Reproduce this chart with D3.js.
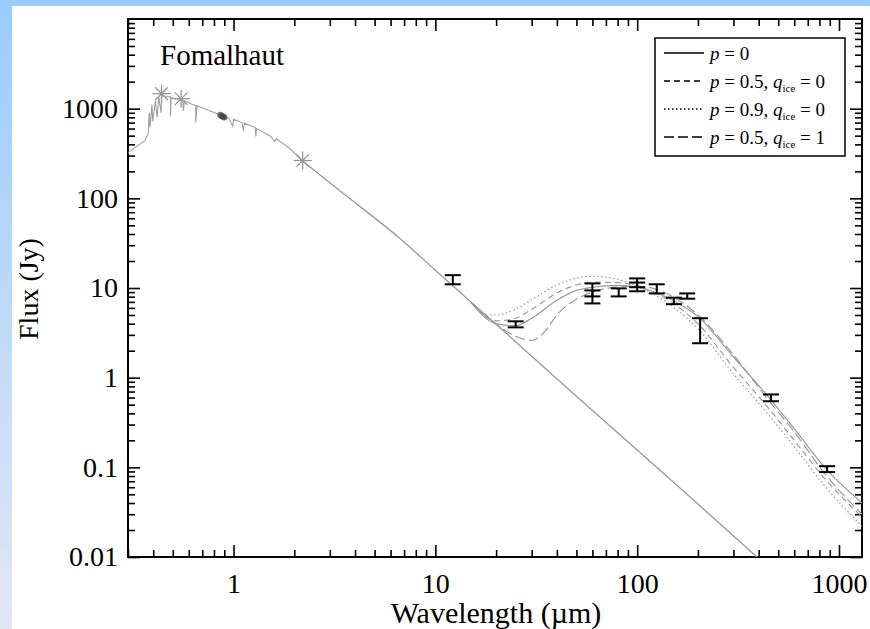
<!DOCTYPE html>
<html>
<head>
<meta charset="utf-8">
<script src="https://cdn.jsdelivr.net/npm/d3@7"></script>
<style>
    body { margin: 0; padding: 0; background: #fff; }
    svg { display: block; font-family: "Liberation Serif", "DejaVu Serif", serif; }
    .tick text { font-size: 28px; fill: #000; font-family: "Liberation Serif", serif; }
    .tick line { stroke: #000; stroke-width: 1.6; }
</style>
</head>
<body>
<div id="chart"></div>
<script>
// Axes: wavelength (um) and flux (Jy), both logarithmic
const X_TICKS = [1, 10, 100, 1000];
const X_LABELS = ['1', '10', '100', '1000'];
const Y_TICKS = [0.01, 0.1, 1, 10, 100, 1000];
const Y_LABELS = ['0.01', '0.1', '1', '10', '100', '1000'];

// Stellar spectrum (optical/near-IR, with absorption spikes) [wavelength, flux]
const spectrum = [
    [0.30, 324], [0.364, 440], [0.378, 540], [0.382, 900], [0.386, 620],
    [0.394, 1110], [0.398, 720], [0.41, 1230], [0.418, 800], [0.426, 1360],
    [0.437, 900], [0.441, 1400], [0.46, 1360], [0.487, 1360], [0.487, 820],
    [0.49, 1330], [0.54, 1260], [0.56, 1240], [0.565, 950], [0.57, 1220],
    [0.61, 1140], [0.65, 1080], [0.65, 700], [0.66, 1080], [0.76, 950],
    [0.83, 880], [0.88, 815], [0.95, 775], [0.99, 640], [1.0, 760],
    [1.1, 700], [1.12, 560], [1.13, 690], [1.28, 615], [1.29, 490],
    [1.3, 600], [1.53, 490], [1.6, 430], [1.63, 460], [1.9, 360], [2.18, 264]
];
// Photosphere continuation (Rayleigh-Jeans tail)
const photosphere = [
    [2.18, 264], [3.5, 113], [6.68, 35.6], [10, 15.8], [20, 3.94],
    [50, 0.62], [100, 0.156], [200, 0.039], [400, 0.0096]
];

// Photometric points drawn as asterisks
const starPhot = [[0.44, 1470], [0.55, 1290], [2.2, 264]];
// Dense cluster near 0.9 um
const blobPhot = [[0.86, 850], [0.875, 830], [0.89, 810], [0.9, 800]];

// Far-IR / submm measurements
const obsWave = [12.2, 25, 60, 60, 81, 100, 100, 125, 152, 177, 205, 460, 873];
const obsLow  = [11.0, 3.64, 8.06, 6.73, 8.06, 10.2, 9.2, 8.7, 6.6, 7.6, 2.42, 0.546, 0.0885];
const obsHigh = [13.9, 4.25, 11.25, 9.4, 9.9, 12.8, 11.5, 11.0, 7.8, 8.7, 4.6, 0.65, 0.103];

// Disk models
const modelNames = ['p = 0', 'p = 0.5, q = 0', 'p = 0.9, q = 0', 'p = 0.5, q = 1'];
const modelP0 = [
    [15, 6.9], [20, 4.0], [25, 3.8], [30, 4.6], [40, 7.3], [50, 9.4], [60, 10.2],
    [80, 10.7], [100, 10.2], [150, 7.3], [200, 4.8], [300, 1.7], [450, 0.6],
    [600, 0.27], [850, 0.1], [1300, 0.04]
];
const modelP05 = [
    [15, 6.9], [20, 4.3], [25, 4.6], [30, 5.8], [40, 8.8], [50, 10.8], [60, 11.6],
    [80, 11.5], [100, 10.5], [150, 6.8], [200, 4.0], [300, 1.3], [450, 0.45],
    [600, 0.2], [850, 0.075], [1300, 0.028]
];
const modelP09 = [
    [15, 6.9], [18, 5.0], [20, 5.0], [25, 5.8], [30, 7.4], [40, 10.8], [50, 12.8],
    [60, 13.5], [80, 12.5], [100, 10.5], [150, 6.2], [200, 3.5], [300, 1.1],
    [450, 0.38], [600, 0.17], [850, 0.062], [1300, 0.022]
];
const modelQ1 = [
    [15, 6.9], [20, 3.95], [25, 2.9], [30, 2.6], [35, 3.3], [40, 5.0], [50, 7.5],
    [60, 9.0], [80, 10.3], [100, 10.5], [150, 8.0], [200, 5.0], [300, 1.8],
    [450, 0.55], [600, 0.25], [850, 0.085], [1300, 0.03]
];
const modelDash = [null, '6,4', '1.5,2.5', '10,4'];

function drawChart() {
    const width = 870;
    const height = 629;
    const plot = { left: 128, top: 19, right: 862, bottom: 557 };

    const svg = d3.select('#chart')
        .append('svg')
        .attr('width', width)
        .attr('height', height);

    // Fond degradé bleu (bandes gauche et haut)
    const defs = svg.append('defs');
    const grad = defs.append('linearGradient')
        .attr('id', 'bg')
        .attr('x1', 0).attr('y1', 0).attr('x2', 0).attr('y2', 1);
    grad.append('stop').attr('offset', '0%').attr('stop-color', '#99ccff');
    grad.append('stop').attr('offset', '100%').attr('stop-color', '#e4e6f4');
    svg.append('rect').attr('width', width).attr('height', height).attr('fill', 'url(#bg)');
    svg.append('rect').attr('x', 12).attr('y', 6)
        .attr('width', width - 12).attr('height', height - 6).attr('fill', '#fff');

    defs.append('clipPath').attr('id', 'clip')
        .append('rect')
        .attr('x', plot.left).attr('y', plot.top)
        .attr('width', plot.right - plot.left).attr('height', plot.bottom - plot.top);

    // Echelles
    const x = d3.scaleLog().domain([0.3, 1300]).range([plot.left, plot.right]);
    const y = d3.scaleLog().domain([0.01, 10000]).range([plot.bottom, plot.top]);

    const xMinor = x.ticks().filter(v => !X_TICKS.includes(v));
    const yMinor = y.ticks().filter(v => !Y_TICKS.includes(v) && v < 10000);

    // Axes (graduations vers l'interieur)
    const bottom = svg.append('g').attr('transform', `translate(0,${plot.bottom})`);
    bottom.call(d3.axisBottom(x).tickValues(X_TICKS).tickSize(-12).tickPadding(16)
        .tickFormat((d, i) => X_LABELS[i]));
    bottom.append('g').call(d3.axisBottom(x).tickValues(xMinor).tickSize(-7).tickFormat(''));

    const top = svg.append('g').attr('transform', `translate(0,${plot.top})`);
    top.call(d3.axisTop(x).tickValues(X_TICKS).tickSize(-12).tickFormat(''));
    top.append('g').call(d3.axisTop(x).tickValues(xMinor).tickSize(-7).tickFormat(''));

    const left = svg.append('g').attr('transform', `translate(${plot.left},0)`);
    left.call(d3.axisLeft(y).tickValues(Y_TICKS).tickSize(-12).tickPadding(10)
        .tickFormat((d, i) => Y_LABELS[i]));
    left.append('g').call(d3.axisLeft(y).tickValues(yMinor).tickSize(-7).tickFormat(''));

    const right = svg.append('g').attr('transform', `translate(${plot.right},0)`);
    right.call(d3.axisRight(y).tickValues(Y_TICKS).tickSize(-12).tickFormat(''));
    right.append('g').call(d3.axisRight(y).tickValues(yMinor).tickSize(-7).tickFormat(''));

    svg.selectAll('.domain').remove();
    // enlever la police sans-serif imposee par d3.axis
    [bottom, top, left, right].forEach(a => a.attr('font-family', null).attr('font-size', null));

    // Cadre
    svg.append('rect')
        .attr('x', plot.left).attr('y', plot.top)
        .attr('width', plot.right - plot.left).attr('height', plot.bottom - plot.top)
        .attr('fill', 'none').attr('stroke', '#000').attr('stroke-width', 2);

    const g = svg.append('g').attr('clip-path', 'url(#clip)');
    const line = d3.line().x(d => x(d[0])).y(d => y(d[1]));
    const smooth = d3.line().x(d => x(d[0])).y(d => y(d[1])).curve(d3.curveMonotoneX);

    // Spectre stellaire + photosphere
    g.append('path').datum(spectrum).attr('d', line)
        .attr('fill', 'none').attr('stroke', '#a0a0a0').attr('stroke-width', 1.1);
    g.append('path').datum(photosphere).attr('d', smooth)
        .attr('fill', 'none').attr('stroke', '#999').attr('stroke-width', 1.3);

    // Modeles du disque
    [modelP0, modelP05, modelP09, modelQ1].forEach((m, i) => {
        g.append('path').datum(m).attr('d', smooth)
            .attr('fill', 'none').attr('stroke', '#9a9a9a').attr('stroke-width', 1.2)
            .attr('stroke-dasharray', modelDash[i]);
    });

    // Asterisques photometriques
    const star = g.append('g').attr('stroke', '#999').attr('stroke-width', 1.3);
    starPhot.forEach(d => {
        const cx = x(d[0]), cy = y(d[1]), r = 9;
        [0, 45, 90, 135].forEach(a => {
            const dx = r * Math.cos(a * Math.PI / 180), dy = r * Math.sin(a * Math.PI / 180);
            star.append('line')
                .attr('x1', cx - dx).attr('y1', cy - dy)
                .attr('x2', cx + dx).attr('y2', cy + dy);
        });
    });
    g.selectAll('.blob').data(blobPhot).join('circle')
        .attr('class', 'blob')
        .attr('cx', d => x(d[0])).attr('cy', d => y(d[1]))
        .attr('r', 3.2).attr('fill', '#444').attr('opacity', 0.7);

    // Barres d'erreur
    const err = g.append('g').attr('stroke', '#000').attr('stroke-width', 2);
    obsWave.forEach((w, i) => {
        const cx = x(w);
        err.append('line').attr('x1', cx).attr('x2', cx)
            .attr('y1', y(obsLow[i])).attr('y2', y(obsHigh[i]));
        [obsLow[i], obsHigh[i]].forEach(v => {
            err.append('line').attr('x1', cx - 8).attr('x2', cx + 8)
                .attr('y1', y(v)).attr('y2', y(v));
        });
    });

    // Titres
    svg.append('text').attr('x', 160).attr('y', 65)
        .attr('font-size', 29).text('Fomalhaut');
    svg.append('text')
        .attr('transform', `translate(38,289) rotate(-90)`)
        .attr('text-anchor', 'middle').attr('font-size', 28)
        .text('Flux (Jy)');
    svg.append('text').attr('x', 496).attr('y', 623)
        .attr('text-anchor', 'middle').attr('font-size', 30)
        .text('Wavelength (\u00b5m)');

    // Legende
    const legend = svg.append('g');
    legend.append('rect')
        .attr('x', 655).attr('y', 38).attr('width', 190).attr('height', 118)
        .attr('fill', '#fff').attr('stroke', '#000').attr('stroke-width', 1.5);
    const rows = [53, 81, 109, 137];
    modelNames.forEach((name, i) => {
        legend.append('line')
            .attr('x1', 664).attr('x2', 704).attr('y1', rows[i]).attr('y2', rows[i])
            .attr('stroke', '#000').attr('stroke-width', 1.4)
            .attr('stroke-dasharray', modelDash[i]);
        const t = legend.append('text').attr('x', 710).attr('y', rows[i] + 7)
            .attr('font-size', 19);
        const parts = name.split(', ');
        t.append('tspan').attr('font-style', 'italic').text('p');
        t.append('tspan').text(' = ' + parts[0].split(' = ')[1]);
        if (parts[1]) {
            t.append('tspan').text(', ');
            t.append('tspan').attr('font-style', 'italic').text('q');
            t.append('tspan').attr('font-size', 11).attr('dy', 4).text('ice');
            t.append('tspan').attr('dy', -4).text(' = ' + parts[1].split(' = ')[1]);
        }
    });
}

drawChart();
</script>
</body>
</html>
